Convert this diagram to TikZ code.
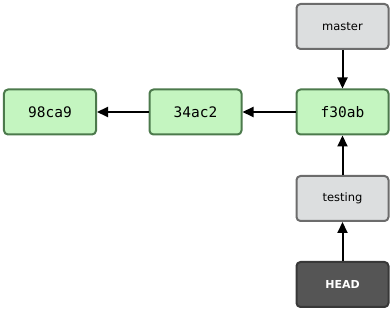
\documentclass[tikz,border=0pt]{standalone}
\usepackage{fontspec}
\setmainfont{DejaVu Sans}
\newfontfamily\commitfont{DejaVu Sans Mono}
\usetikzlibrary{arrows.meta}
\definecolor{cfill}{HTML}{C4F5C0}
\definecolor{cdraw}{HTML}{4C7A4C}
\definecolor{rfill}{HTML}{DCDEDF}
\definecolor{rdraw}{HTML}{6C6C6C}
\definecolor{hfill}{HTML}{555555}
\definecolor{hdraw}{HTML}{383838}
\tikzset{
  box/.style={rounded corners=4pt, line width=2pt, minimum width=92pt, minimum height=45pt, inner sep=0pt},
  commit/.style={box, fill=cfill, draw=cdraw, font=\commitfont\fontsize{14.5}{16}\selectfont},
  ref/.style={box, fill=rfill, draw=rdraw, font=\fontsize{11.5}{13}\selectfont},
  headref/.style={box, fill=hfill, draw=hdraw, text=white, font=\bfseries\fontsize{11}{12}\selectfont},
  link/.style={line width=2pt, -{Triangle[length=11pt,width=10pt]}}
}
\begin{document}
\begin{tikzpicture}[x=1pt,y=-1pt]
\useasboundingbox (0,0) rectangle (392,310);
\node[commit] (c1) at (50,112) {98ca9};
\node[commit] (c2) at (195.5,112) {34ac2};
\node[commit] (c3) at (342.5,112) {f30ab};
\node[ref] (master) at (342.5,26.5) {master};
\node[ref] (testing) at (342.5,198.5) {testing};
\node[headref] (head) at (342.5,284.5) {HEAD};
\draw[link] (c2) -- (c1);
\draw[link] (c3) -- (c2);
\draw[link] (master) -- (c3);
\draw[link] (testing) -- (c3);
\draw[link] (head) -- (testing);
\end{tikzpicture}
\end{document}
